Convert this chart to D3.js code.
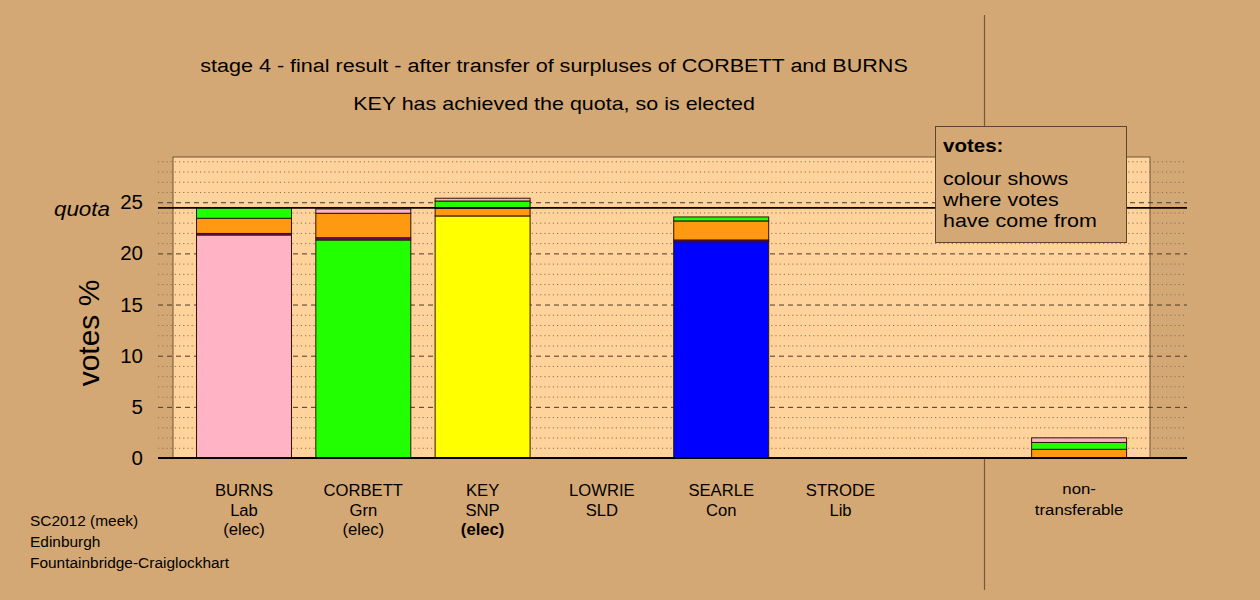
<!DOCTYPE html>
<html>
<head>
<meta charset="utf-8">
<script src="https://cdn.jsdelivr.net/npm/d3@7"></script>
<style>
  html, body { margin: 0; padding: 0; background: #D4A874; }
  svg { display: block; font-family: "Liberation Sans", Arial, sans-serif; }
</style>
</head>
<body>
<svg id="chart" width="1260" height="600"></svg>
<script>
// ---- data ----
const candidates = ["BURNS", "CORBETT", "KEY", "LOWRIE", "SEARLE", "STRODE", "", "non-transferable"];
const parties    = ["Lab", "Grn", "SNP", "SLD", "Con", "Lib", "", ""];
const status     = ["(elec)", "(elec)", "(elec)", "", "", "", "", ""];
const ownColours = ["#FFB3C4", "#22FF00", "#FFFF00", "#8A008A", "#0000FF", "#FF9912", "none", "none"];
// votes % by source (stacked bottom to top)
const ownVotes = [21.80, 21.31, 23.66, 0, 21.14, 0, 0, 0];
const fromSLD  = [0.15, 0.22, 0, 0, 0.17, 0, 0, 0];
const fromLib  = [1.48, 2.39, 0.75, 0, 1.86, 0, 0, 0.85];
const fromGrn  = [1.04, 0, 0.71, 0, 0.39, 0, 0, 0.67];
const fromLab  = [0, 0.42, 0.27, 0, 0, 0, 0, 0.45];
const quota = 24.45;
const yTicks = [0, 5, 10, 15, 20, 25];
const minorTicks = d3.range(1, 30);
const sourceKeys = ["own", "SLD", "Lib", "Grn", "Lab"];
const sourceColours = { SLD: "#8A008A", Lib: "#FF9912", Grn: "#22FF00", Lab: "#FFB3C4" };

const svg = d3.select("#chart");
const bg = "#D4A874";
svg.append("rect").attr("width", 1260).attr("height", 600).attr("fill", bg);

const y = d3.scaleLinear().domain([0, 29.42]).range([458, 157]);
const x = d3.scaleBand().domain(d3.range(candidates.length))
  .range([184.35, 1138.75]).paddingInner(0.204).paddingOuter(0.102);

const gridL = 158, gridR = 1187, panelL = 173, panelR = 1150;

// helper: text with a horizontal stretch
function stext(parent, tx, ty, sx, txt, attrs) {
  const g = parent.append("g").attr("transform", `translate(${tx},${ty}) scale(${sx},1)`);
  const t = g.append("text").attr("x", 0).attr("y", 0).text(txt);
  Object.entries(attrs || {}).forEach(([k, v]) => t.attr(k, v));
  return t;
}

// separator line
svg.append("line").attr("x1", 984.5).attr("x2", 984.5).attr("y1", 15).attr("y2", 590)
  .attr("stroke", "#6E5A44").attr("stroke-width", 1.2);

// panel
svg.append("rect").attr("x", panelL).attr("y", y(29.42)).attr("width", panelR - panelL)
  .attr("height", y(0) - y(29.42)).attr("fill", "#FFD39B")
  .attr("stroke", "#6E5436").attr("stroke-width", 1);

// minor dotted gridlines
svg.append("g").selectAll("line").data(minorTicks.filter(d => d % 5 !== 0)).join("line")
  .attr("x1", gridL).attr("x2", gridR).attr("y1", d => y(d) + 0.5).attr("y2", d => y(d) + 0.5)
  .attr("stroke", "#8C7250").attr("stroke-width", 1).attr("stroke-dasharray", "1.2,3");
// major dashed
svg.append("g").selectAll("line").data(yTicks.filter(d => d > 0)).join("line")
  .attr("x1", gridL).attr("x2", gridR).attr("y1", d => y(d) + 0.5).attr("y2", d => y(d) + 0.5)
  .attr("stroke", "#4A3A2A").attr("stroke-width", 1).attr("stroke-dasharray", "5,4");

// stacked bars
const rows = candidates.map((c, i) => ({
  i, own: ownVotes[i], SLD: fromSLD[i], Lib: fromLib[i], Grn: fromGrn[i], Lab: fromLab[i]
}));
const stack = d3.stack().keys(sourceKeys)(rows);
const barG = svg.append("g");
stack.forEach(layer => {
  barG.append("g").selectAll("rect").data(layer.filter(d => d[1] - d[0] > 0)).join("rect")
    .attr("x", d => x(d.data.i))
    .attr("width", x.bandwidth())
    .attr("y", d => y(d[1]))
    .attr("height", d => y(d[0]) - y(d[1]))
    .attr("fill", d => layer.key === "own" ? ownColours[d.data.i] : sourceColours[layer.key])
    .attr("stroke", "#2A1608").attr("stroke-width", 1);
});

// quota line
svg.append("line").attr("x1", gridL).attr("x2", gridR).attr("y1", y(quota)).attr("y2", y(quota))
  .attr("stroke", "#000").attr("stroke-width", 1.6);
// zero axis
svg.append("line").attr("x1", gridL).attr("x2", gridR).attr("y1", y(0)).attr("y2", y(0))
  .attr("stroke", "#000").attr("stroke-width", 2);

// y axis labels
const yAxis = d3.axisLeft(y).tickValues(yTicks).tickSize(0).tickPadding(7).tickFormat(d3.format("d"));
const ya = svg.append("g").attr("transform", "translate(150,0)").call(yAxis);
ya.select(".domain").remove();
ya.selectAll("text").attr("font-size", 20.5).attr("fill", "#000")
  .attr("font-family", "Liberation Sans, Arial, sans-serif");

stext(svg, 110, y(quota) + 8, 1.12, "quota",
  { "text-anchor": "end", "font-size": 20, "font-style": "italic" });

svg.append("text").attr("transform", "translate(99,333) rotate(-90)").attr("text-anchor", "middle")
  .attr("font-size", 30).text("votes %");

// titles
stext(svg, 554, 72, 1.135, "stage 4 - final result - after transfer of surpluses of CORBETT and BURNS",
  { "text-anchor": "middle", "font-size": 19 });
stext(svg, 554, 110, 1.13, "KEY has achieved the quota, so is elected",
  { "text-anchor": "middle", "font-size": 19 });

// category labels
const labG = svg.append("g").attr("text-anchor", "middle");
candidates.forEach((c, i) => {
  const cx = x(i) + x.bandwidth() / 2;
  if (c === "non-transferable") {
    stext(labG, cx, 494, 1.12, "non-", { "font-size": 15 });
    stext(labG, cx, 515, 1.12, "transferable", { "font-size": 15 });
    return;
  }
  if (!c) return;
  stext(labG, cx, 496, 1.04, c, { "font-size": 16 });
  stext(labG, cx, 516, 1.04, parties[i], { "font-size": 16 });
  if (status[i]) {
    stext(labG, cx, 535, 1.04, status[i],
      { "font-size": 16, "font-weight": c === "KEY" ? "bold" : "normal" });
  }
});

// footer
const foot = ["SC2012 (meek)", "Edinburgh", "Fountainbridge-Craiglockhart"];
foot.forEach((t, i) => stext(svg, 30, 526 + i * 21, 1.065, t, { "font-size": 14.5 }));

// legend
const lg = svg.append("g");
lg.append("rect").attr("x", 935.5).attr("y", 126.5).attr("width", 191).attr("height", 116)
  .attr("fill", bg).attr("stroke", "#5A4630").attr("stroke-width", 1);
stext(lg, 943, 152, 1.14, "votes:", { "font-size": 18, "font-weight": "bold" });
["colour shows", "where votes", "have come from"].forEach((t, i) => {
  stext(lg, 943, 185 + i * 21, 1.13, t, { "font-size": 19 });
});
</script>
</body>
</html>
